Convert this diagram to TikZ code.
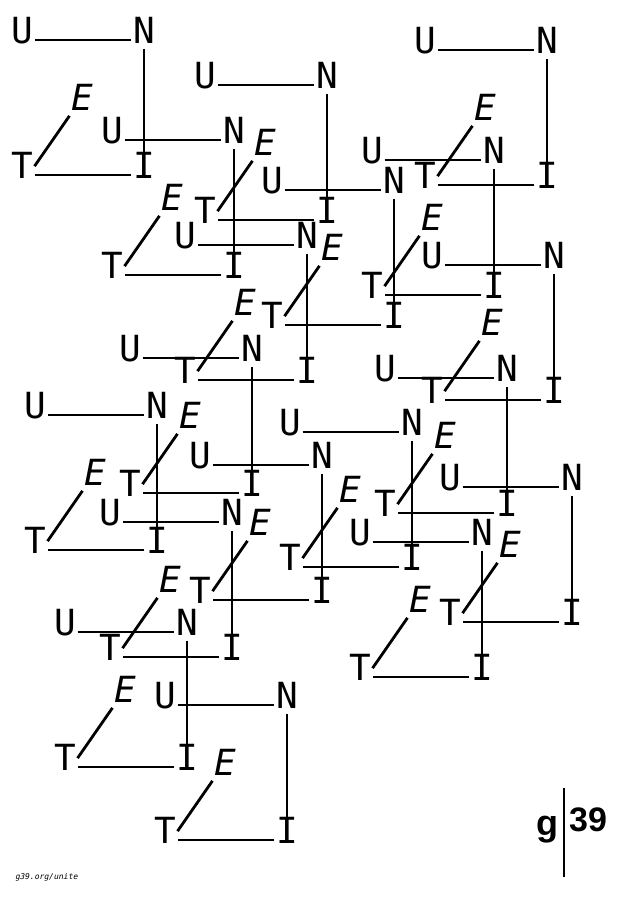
\documentclass[tikz,border=0pt]{standalone}
\usepackage{fontspec}
\newfontfamily\monof{DejaVu Sans Mono}
\newfontfamily\labf{Liberation Sans}
\begin{document}
\begin{tikzpicture}[x=1pt,y=1pt,
  lt/.style={font=\monof\fontsize{36}{36}\selectfont, inner xsep=1.5pt, inner ysep=5pt, text height=0.73em, text depth=0pt, anchor=center},
  ltE/.style={lt, font=\monof\itshape\fontsize{36}{36}\selectfont},
  ln/.style={line width=2.8pt}]
\useasboundingbox (0,0) rectangle (629,-897);
\foreach \n/\x/\y in {a/22/40, b/205/85, c/112/140, d/425/50, e/372/160, f/272/190,
  g/185/245, h/432/265, i/130/358, j/35/415, k/385/378, l/290/432, m/200/465,
  n/450/487, o/110/522, p/360/542, q/65/632, r/165/705}{
  \node[lt] (\n U) at (\x,-\y) {U};
  \node[lt] (\n N) at (\x+122,-\y) {N};
  \node[lt] (\n I) at (\x+122,-\y-135) {I};
  \node[lt] (\n T) at (\x,-\y-135) {T};
  \node[ltE] (\n E) at (\x+60,-\y-67) {E};
  \draw[ln] (\n U) -- (\n N);
  \draw[ln] (\n N) -- (\n I);
  \draw[ln] (\n I) -- (\n T);
  \draw[ln] (\n T.north east) -- (\n E.south west);
}
\node[font=\monof\itshape\fontsize{8}{8}\selectfont, anchor=west] (url) at (12,-877) {g39.org/unite};
\node[font=\labf\bfseries\fontsize{36}{36}\selectfont, anchor=east, inner sep=2pt] (g) at (561,-830) {g};
\node[font=\labf\bfseries\fontsize{34}{34}\selectfont, anchor=west, inner sep=2pt] (n39) at (567,-820) {39};
\coordinate (bt) at (563.5,-788);
\coordinate (bb) at (563.5,-877);
\draw[line width=2pt] (bt) -- (bb);
\end{tikzpicture}
\end{document}
